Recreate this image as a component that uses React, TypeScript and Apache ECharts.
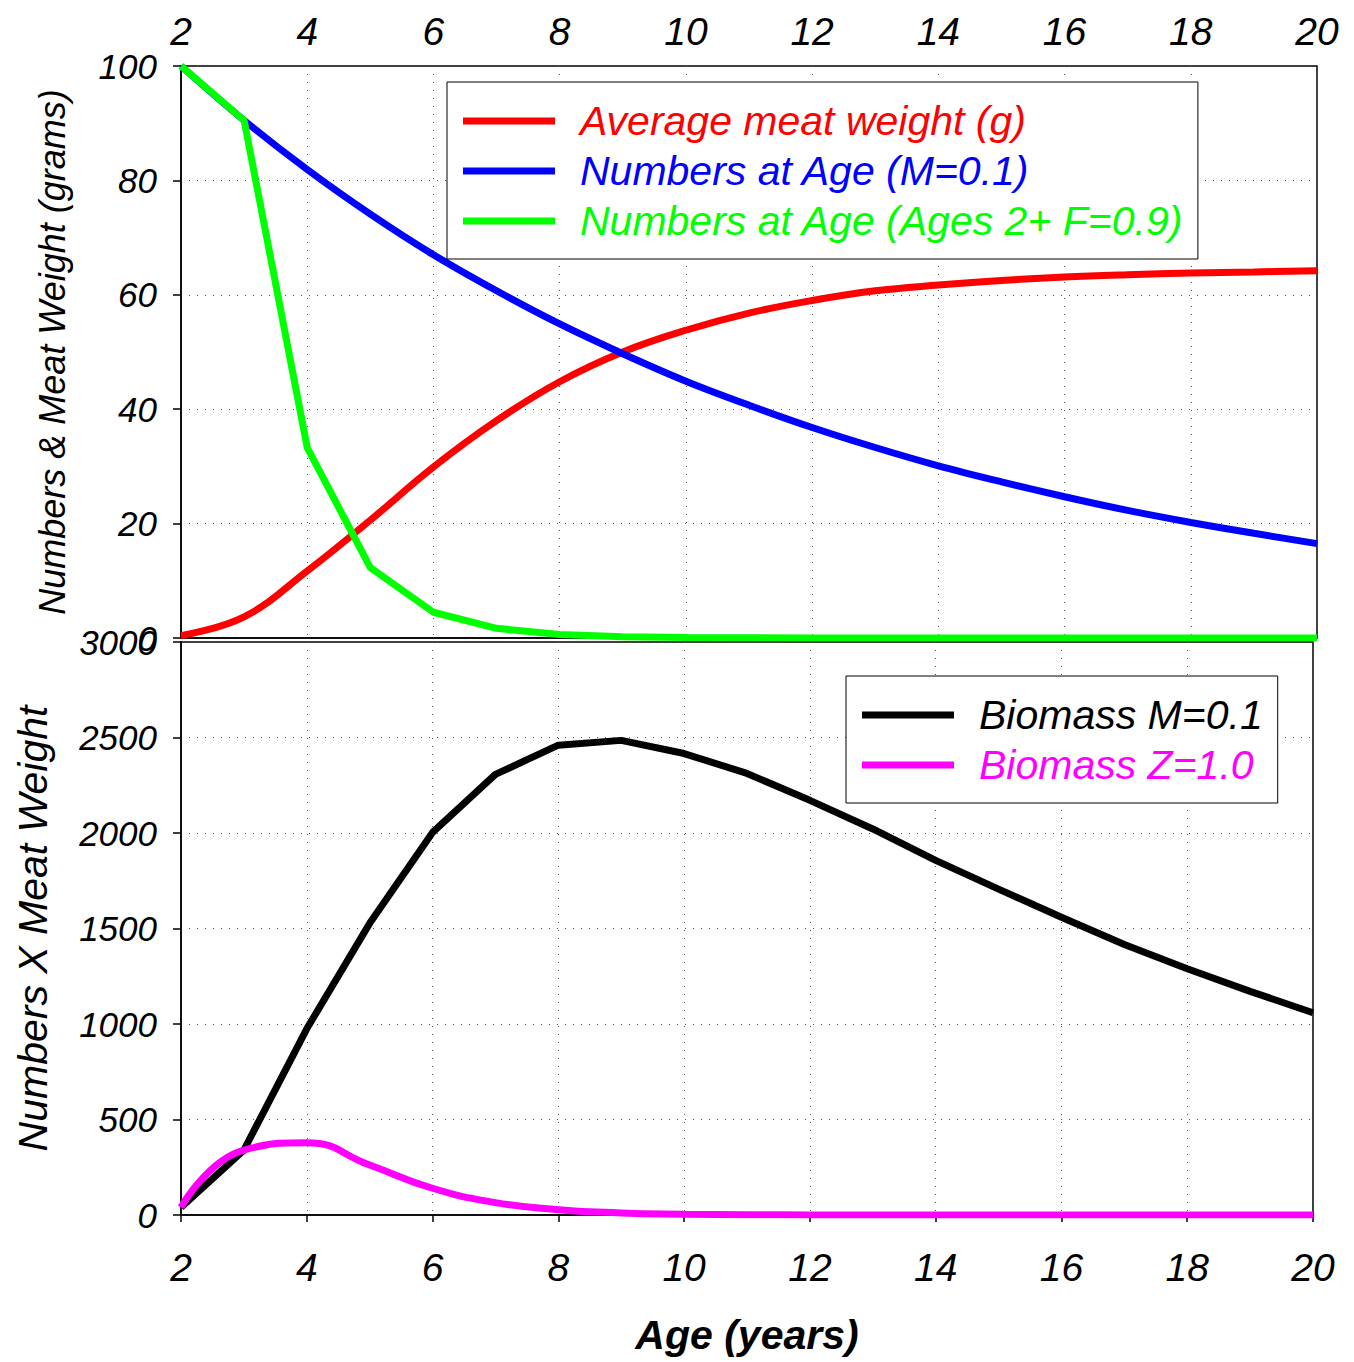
import React, { useEffect, useRef } from "react";
import * as echarts from "echarts";

const ages = [2, 3, 4, 5, 6, 7, 8, 9, 10, 11, 12, 13, 14, 15, 16, 17, 18, 19, 20];
const meatWeight = [0.4, 3.7, 11.7, 20.6, 29.9, 38.0, 44.8, 50.0, 53.8, 56.8, 59.0, 60.7, 61.7, 62.5, 63.1, 63.5, 63.8, 64.0, 64.2];
const numbersM01 = [100, 90.5, 81.9, 74.1, 67.0, 60.7, 54.9, 49.7, 44.9, 40.7, 36.8, 33.3, 30.1, 27.3, 24.7, 22.3, 20.2, 18.3, 16.5];
const numbersF09 = [100, 90.5, 33.3, 12.3, 4.5, 1.7, 0.6, 0.2, 0.1, 0.03, 0.01, 0, 0, 0, 0, 0, 0, 0, 0];
const biomassM01 = [40, 340, 975, 1527, 2003, 2307, 2460, 2485, 2416, 2312, 2171, 2021, 1857, 1706, 1559, 1416, 1289, 1171, 1059];
const biomassZ10 = [40, 340, 378, 262, 140, 65, 28, 11, 4.4, 1.6, 0.6, 0.2, 0.1, 0, 0, 0, 0, 0, 0];

const topSeriesNames = ["Average meat weight (g)", "Numbers at Age (M=0.1)", "Numbers at Age (Ages 2+ F=0.9)"];
const bottomSeriesNames = ["Biomass M=0.1", "Biomass Z=1.0"];
const topColors = ["#ff0000", "#0000ff", "#00ff00"];
const bottomColors = ["#000000", "#ff00ff"];

const FONT = "'Liberation Sans', Arial, sans-serif";

const pairs = (vals: number[]) => ages.map((a, i) => [a, vals[i]]);

export default function App() {
  const ref = useRef<HTMLDivElement>(null);
  useEffect(() => {
    document.body.style.margin = "0";
    if (!ref.current) return;
    const chart = echarts.init(ref.current, undefined, { renderer: "svg" });
    const gridLine = { show: true, lineStyle: { type: [1, 7], color: "#555", width: 1 } };
    const legendCommon = {
      orient: "vertical",
      icon: "rect",
      itemWidth: 92,
      itemHeight: 7,
      itemGap: 4,
      borderColor: "#000",
      borderWidth: 1,
      backgroundColor: "#fff",
      selectedMode: false,
      textStyle: {
        fontFamily: FONT,
        fontStyle: "italic",
        fontSize: 41,
        lineHeight: 46,
        padding: [0, 0, 0, 20],
      },
    };
    const labelFmt = (v: number) => String(v);
    const option: any = {
      animation: false,
      backgroundColor: "#fff",
      grid: [
        { left: 181, top: 66, right: 37, height: 572, show: true, borderColor: "#000", borderWidth: 1.5, backgroundColor: "transparent" },
        { left: 181, top: 642, right: 41, height: 573, show: true, borderColor: "#000", borderWidth: 1.5, backgroundColor: "transparent" },
      ],
      legend: [
        {
          ...legendCommon,
          left: 447,
          top: 82,
          padding: [16, 14, 15, 16],
          data: topSeriesNames.map((n, i) => ({ name: n, textStyle: { color: topColors[i] } })),
        },
        {
          ...legendCommon,
          left: 846,
          top: 676,
          padding: [16, 15, 15, 16],
          data: bottomSeriesNames.map((n, i) => ({ name: n, textStyle: { color: bottomColors[i] } })),
        },
      ],
      xAxis: [
        {
          type: "value",
          gridIndex: 0,
          position: "top",
          min: 2,
          max: 20,
          interval: 2,
          axisLine: { show: true, lineStyle: { color: "#000", width: 1.5 } },
          axisTick: { show: false },
          axisLabel: { fontFamily: FONT, fontStyle: "italic", fontSize: 39, color: "#000", margin: 15, formatter: labelFmt },
          splitLine: gridLine,
        },
        {
          type: "value",
          gridIndex: 1,
          position: "bottom",
          min: 2,
          max: 20,
          interval: 2,
          name: "Age (years)",
          nameLocation: "middle",
          nameGap: 99,
          nameTextStyle: { fontFamily: FONT, fontStyle: "italic", fontWeight: "bold", fontSize: 41, color: "#000" },
          axisLine: { show: true, lineStyle: { color: "#000", width: 1.5 } },
          axisTick: { show: true, inside: false, length: 7, lineStyle: { color: "#000", width: 1.5 } },
          axisLabel: { fontFamily: FONT, fontStyle: "italic", fontSize: 39, color: "#000", margin: 33, formatter: labelFmt },
          splitLine: gridLine,
        },
      ],
      yAxis: [
        {
          type: "value",
          gridIndex: 0,
          min: 0,
          max: 100,
          interval: 20,
          name: "Numbers & Meat Weight (grams)",
          nameLocation: "middle",
          nameGap: 111,
          nameTextStyle: { fontFamily: FONT, fontStyle: "italic", fontSize: 36, color: "#000" },
          axisLine: { show: true, lineStyle: { color: "#000", width: 1.5 } },
          axisTick: { show: true, length: 8, lineStyle: { color: "#000", width: 1.5 } },
          axisLabel: { fontFamily: FONT, fontStyle: "italic", fontSize: 35, color: "#000", margin: 24, formatter: labelFmt },
          splitLine: gridLine,
        },
        {
          type: "value",
          gridIndex: 1,
          min: 0,
          max: 3000,
          interval: 500,
          name: "Numbers X Meat Weight",
          nameLocation: "middle",
          nameGap: 128,
          nameTextStyle: { fontFamily: FONT, fontStyle: "italic", fontSize: 41, color: "#000" },
          axisLine: { show: true, lineStyle: { color: "#000", width: 1.5 } },
          axisTick: { show: true, length: 8, lineStyle: { color: "#000", width: 1.5 } },
          axisLabel: { fontFamily: FONT, fontStyle: "italic", fontSize: 35, color: "#000", margin: 24, formatter: labelFmt },
          splitLine: gridLine,
        },
      ],
      series: [
        { name: topSeriesNames[0], type: "line", xAxisIndex: 0, yAxisIndex: 0, data: pairs(meatWeight), smooth: 0.4, showSymbol: false, lineStyle: { color: topColors[0], width: 7 }, itemStyle: { color: topColors[0] } },
        { name: topSeriesNames[1], type: "line", xAxisIndex: 0, yAxisIndex: 0, data: pairs(numbersM01), smooth: 0.35, showSymbol: false, lineStyle: { color: topColors[1], width: 7 }, itemStyle: { color: topColors[1] } },
        { name: topSeriesNames[2], type: "line", xAxisIndex: 0, yAxisIndex: 0, data: pairs(numbersF09), smooth: false, showSymbol: false, lineStyle: { color: topColors[2], width: 7 }, itemStyle: { color: topColors[2] } },
        { name: bottomSeriesNames[0], type: "line", xAxisIndex: 1, yAxisIndex: 1, data: pairs(biomassM01), smooth: false, showSymbol: false, lineStyle: { color: bottomColors[0], width: 7 }, itemStyle: { color: bottomColors[0] } },
        { name: bottomSeriesNames[1], type: "line", xAxisIndex: 1, yAxisIndex: 1, data: pairs(biomassZ10), smooth: 0.5, showSymbol: false, lineStyle: { color: bottomColors[1], width: 7 }, itemStyle: { color: bottomColors[1] } },
      ],
    };
    chart.setOption(option);
    return () => chart.dispose();
  }, []);
  return <div ref={ref} style={{ width: 1354, height: 1362 }} />;
}
